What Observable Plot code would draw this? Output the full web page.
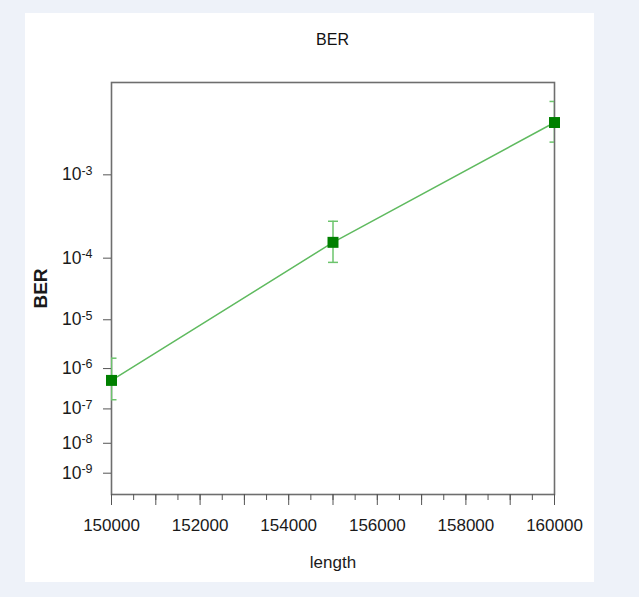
<!DOCTYPE html>
<html>
<head>
<meta charset="utf-8">
<script src="https://cdn.jsdelivr.net/npm/d3@7"></script>
<script src="https://cdn.jsdelivr.net/npm/@observablehq/plot@0.6"></script>
<style>
  html, body { margin: 0; padding: 0; background: #eef2f9; }
  #wrap { position: relative; width: 639px; height: 597px; overflow: hidden; font-family: "Liberation Sans", Arial, sans-serif; }
  #panel { position: absolute; left: 25px; top: 13px; width: 569px; height: 569px; background: #ffffff; }
  #title { position: absolute; left: 111px; width: 443px; top: 31px; text-align: center; font-size: 16px; line-height: 18px; color: #111; }
  #chart { position: absolute; left: 0; top: 0; }
</style>
</head>
<body>
<div id="wrap">
  <div id="panel"></div>
  <div id="chart"></div>
  <div id="title">BER</div>
</div>
<script>
// ---- data ----
const lengths = [150000, 155000, 160000];
const berValues = [5.3e-7, 1.65e-4, 2.97e-3];
const berUpper = [1.7e-6, 3.06e-4, 4.33e-3];
const berLower = [1.75e-7, 8.7e-5, 2.03e-3];

const xDomain = [150000, 160000];
const xLabelTicks = [150000, 152000, 154000, 156000, 158000, 160000];
const yTickBER = [1e-3, 1e-4, 1e-5, 1e-6, 1e-7, 1e-8, 1e-9];
const yTickExp = ["-3", "-4", "-5", "-6", "-7", "-8", "-9"];
const yDomainBER = [1.6e-10, 5.92e-3];

// ---- BER -> Q factor (dB) scale transform ----
function invNorm(p) {
  const a = [-3.969683028665376e+01, 2.209460984245205e+02, -2.759285104469687e+02, 1.383577518672690e+02, -3.066479806614716e+01, 2.506628277459239e+00];
  const b = [-5.447609879822406e+01, 1.615858368580409e+02, -1.556989798598866e+02, 6.680131188771972e+01, -1.328068155288572e+01];
  const c = [-7.784894002430293e-03, -3.223964580411365e-01, -2.400758277161838e+00, -2.549671464313114e+00, 4.374664141464968e+00, 2.938163982698783e+00];
  const d = [7.784695709041462e-03, 3.224671290700398e-01, 2.445134137142996e+00, 3.754408661907416e+00];
  const pl = 0.02425, ph = 1 - pl;
  let q, r;
  if (p < pl) {
    q = Math.sqrt(-2 * Math.log(p));
    return (((((c[0]*q+c[1])*q+c[2])*q+c[3])*q+c[4])*q+c[5]) / ((((d[0]*q+d[1])*q+d[2])*q+d[3])*q+1);
  } else if (p <= ph) {
    q = p - 0.5; r = q * q;
    return (((((a[0]*r+a[1])*r+a[2])*r+a[3])*r+a[4])*r+a[5])*q / (((((b[0]*r+b[1])*r+b[2])*r+b[3])*r+b[4])*r+1);
  } else {
    q = Math.sqrt(-2 * Math.log(1 - p));
    return -(((((c[0]*q+c[1])*q+c[2])*q+c[3])*q+c[4])*q+c[5]) / ((((d[0]*q+d[1])*q+d[2])*q+d[3])*q+1);
  }
}
const qdb = ber => 20 * Math.log10(-invNorm(ber));

const data = lengths.map((x, i) => ({x, ber: berValues[i], hi: berUpper[i], lo: berLower[i]}));
const tickLabel = new Map(yTickBER.map((b, i) => [qdb(b), "10^" + yTickExp[i]]));

const capSymbol = {
  draw(ctx, size) {
    const w = Math.sqrt(size / Math.PI);
    ctx.moveTo(-w, 0);
    ctx.lineTo(w, 0);
  }
};

const lineColor = "#5fba5f";
const errColor = "#6cc46c";
const markColor = "#008000";
const font = "'Liberation Sans', Arial, sans-serif";

const chart = Plot.plot({
  width: 639,
  height: 597,
  marginLeft: 111,
  marginRight: 85,
  marginTop: 82,
  marginBottom: 103,
  style: {background: "transparent", fontFamily: font, color: "#1a1a1a", overflow: "visible"},
  x: {domain: xDomain},
  y: {domain: yDomainBER.map(qdb)},
  marks: [
    Plot.frame({stroke: "#6e6e6e", strokeWidth: 1.6}),
    Plot.axisX(d3.range(xDomain[0], xDomain[1] + 1, 500), {tickSize: 6, tickFormat: () => "", label: null, stroke: "#555"}),
    Plot.axisX(d3.range(xDomain[0], xDomain[1] + 1, 1000), {tickSize: 11, tickFormat: () => "", label: null, stroke: "#555"}),
    Plot.axisX(xLabelTicks, {tickSize: 0, tickPadding: 24, tickFormat: d => String(d), fontSize: 17, fill: "#1a1a1a",
      label: "length", labelAnchor: "center", labelOffset: 73, labelArrow: false}),
    Plot.axisY(yTickBER.map(qdb), {tickSize: 8, tickPadding: 11, tickFormat: v => tickLabel.get(v), fontSize: 17, fill: "#1a1a1a", stroke: "#555", label: null}),
    Plot.axisY([], {tickSize: 0, label: "BER", labelAnchor: "center", labelOffset: 78, labelArrow: false, fontSize: 19, fontWeight: "bold", fill: "#1a1a1a"}),
    Plot.line(data, {x: "x", y: d => qdb(d.ber), stroke: lineColor, strokeWidth: 1.5}),
    Plot.ruleX(data, {x: "x", y1: d => qdb(d.hi), y2: d => qdb(d.lo), stroke: errColor, strokeWidth: 1.5, clip: "frame"}),
    Plot.dot(data, {x: "x", y: d => qdb(d.hi), symbol: capSymbol, r: 5, stroke: errColor, strokeWidth: 1.5, fill: "none", clip: "frame"}),
    Plot.dot(data, {x: "x", y: d => qdb(d.lo), symbol: capSymbol, r: 5, stroke: errColor, strokeWidth: 1.5, fill: "none", clip: "frame"}),
    Plot.dot(data, {x: "x", y: d => qdb(d.ber), symbol: "square", r: 6.2, fill: markColor, stroke: "none"})
  ]
});
document.getElementById("chart").appendChild(chart);

// superscript exponents on y tick labels
chart.querySelectorAll('g[aria-label="y-axis tick label"] text').forEach(t => {
  const s = t.textContent;
  const k = s.indexOf("^");
  if (k < 0) return;
  const base = s.slice(0, k), exp = s.slice(k + 1);
  t.textContent = "";
  const ns = "http://www.w3.org/2000/svg";
  const t1 = document.createElementNS(ns, "tspan");
  t1.textContent = base;
  t1.setAttribute("font-size", "17.5");
  const t2 = document.createElementNS(ns, "tspan");
  t2.textContent = exp;
  t2.setAttribute("dy", "-0.45em");
  t2.setAttribute("font-size", "12.5");
  t.appendChild(t1);
  t.appendChild(t2);
});
</script>
</body>
</html>
